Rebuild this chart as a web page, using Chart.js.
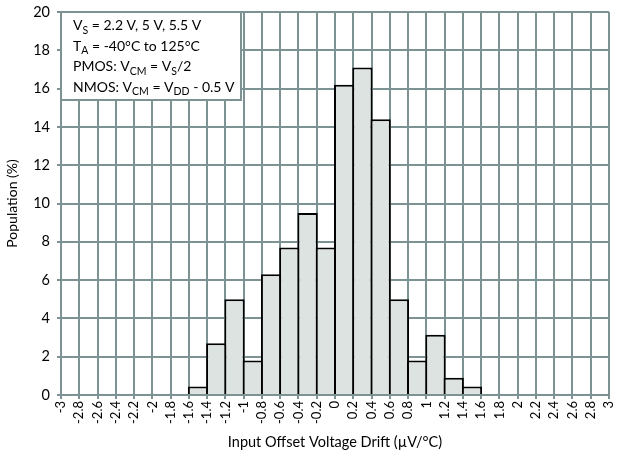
<!DOCTYPE html>
<html>
<head>
<meta charset="utf-8">
<script src="https://cdn.jsdelivr.net/npm/chart.js@4/dist/chart.umd.min.js"></script>
<style>
  body { margin: 0; background: #fff; }
  #wrap { width: 617px; height: 452px; }
</style>
</head>
<body>
<div id="wrap"><canvas id="driftChart"></canvas></div>
<script>
// histogram bins (centre of each 0.2 uV/C bin) and population in %
const binCenters = [-1.5, -1.3, -1.1, -0.9, -0.7, -0.5, -0.3, -0.1, 0.1, 0.3, 0.5, 0.7, 0.9, 1.1, 1.3, 1.5];
const population = [0.45, 2.7, 5.0, 1.8, 6.3, 7.7, 9.5, 7.7, 16.2, 17.1, 14.4, 5.0, 1.8, 3.15, 0.9, 0.45];

const xMin = -3, xMax = 3, xStep = 0.2;
const yMin = 0, yMax = 20, yStep = 2;

// conditions box, each line split into normal / subscript pieces
const noteLines = [
  [["V"], ["S", true], [" = 2.2 V, 5 V, 5.5 V"]],
  [["T"], ["A", true], [" = -40°C to 125°C"]],
  [["PMOS: V"], ["CM", true], [" = V"], ["S", true], ["/2"]],
  [["NMOS: V"], ["CM", true], [" = V"], ["DD", true], [" - 0.5 V"]]
];

const gridColor = '#7d9393';
const fontFamily = 'Lato, "Open Sans", sans-serif';

const points = binCenters.map((c, i) => ({ x: c, y: population[i] }));

const noteBox = {
  id: 'noteBox',
  afterDraw(chart) {
    const ctx = chart.ctx;
    const area = chart.chartArea;
    const x = area.left, y = area.top, w = 180, h = 88;
    ctx.save();
    ctx.fillStyle = '#fff';
    ctx.fillRect(x, y, w, h);
    ctx.strokeStyle = gridColor;
    ctx.lineWidth = 2;
    ctx.strokeRect(x, y, w, h);
    ctx.fillStyle = '#000';
    ctx.textBaseline = 'alphabetic';
    noteLines.forEach((line, i) => {
      let tx = x + 12;
      const base = y + 18 + i * 20.5;
      line.forEach(([txt, sub]) => {
        ctx.font = (sub ? '10.5px ' : '14px ') + fontFamily;
        ctx.fillText(txt, tx, sub ? base + 3.5 : base);
        tx += ctx.measureText(txt).width;
      });
    });
    ctx.restore();
  }
};

new Chart(document.getElementById('driftChart'), {
  type: 'bar',
  data: {
    datasets: [{
      data: points,
      backgroundColor: '#dce3e0',
      borderColor: '#000',
      borderWidth: 2,
      barPercentage: 1.11,
      categoryPercentage: 1
    }]
  },
  options: {
    responsive: true,
    maintainAspectRatio: false,
    animation: false,
    layout: { padding: { top: 12, right: 8, left: 0, bottom: 0 } },
    plugins: { legend: { display: false }, tooltip: { enabled: false } },
    scales: {
      x: {
        type: 'linear',
        min: xMin,
        max: xMax,
        offset: false,
        grid: { offset: false, color: gridColor, lineWidth: 2, tickLength: 4 },
        border: { color: gridColor, width: 2 },
        ticks: {
          stepSize: xStep,
          maxTicksLimit: 40,
          autoSkip: false,
          minRotation: 90,
          maxRotation: 90,
          padding: 2,
          color: '#000',
          font: { family: fontFamily, size: 13 },
          callback: v => String(Number(v.toFixed(1)))
        },
        title: {
          display: true,
          text: 'Input Offset Voltage Drift (µV/°C)',
          color: '#000',
          font: { family: fontFamily, size: 14.5 },
          padding: { top: 2, bottom: 1 }
        },
        afterFit: s => {
          s.height = 57;
          s.paddingLeft = 0;
          s.paddingRight = 0;
        }
      },
      y: {
        min: yMin,
        max: yMax,
        grid: { color: gridColor, lineWidth: 2, tickLength: 4 },
        border: { color: gridColor, width: 2 },
        ticks: {
          stepSize: yStep,
          padding: 7,
          color: '#000',
          font: { family: fontFamily, size: 14.5 }
        },
        title: {
          display: true,
          text: 'Population (%)',
          color: '#000',
          font: { family: fontFamily, size: 14 },
          padding: { top: 4, bottom: 0 }
        },
        afterFit: s => {
          s.width = 61;
          s.paddingTop = 0;
          s.paddingBottom = 0;
        }
      }
    }
  },
  plugins: [noteBox]
});
</script>
</body>
</html>
